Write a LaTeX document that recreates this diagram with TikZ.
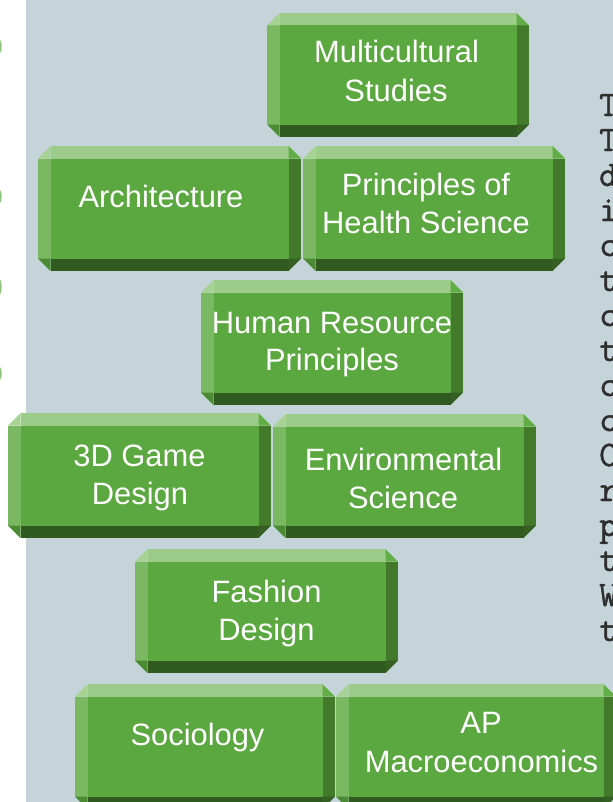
\documentclass[tikz,border=0pt]{standalone}
\usepackage{fontspec}
\setmainfont{Liberation Sans}
\newfontfamily\sidefont[FakeBold=1.2]{Latin Modern Mono}
\definecolor{bgc}{HTML}{C5D4D9}
\definecolor{bface}{HTML}{5AA83F}
\definecolor{btop}{HTML}{9DCB89}
\definecolor{bleft}{HTML}{7AB862}
\definecolor{bright}{HTML}{42792B}
\definecolor{bbottom}{HTML}{305A20}
\definecolor{btl}{HTML}{A6D293}
\definecolor{btr}{HTML}{62AE46}
\definecolor{bbl}{HTML}{4B8B33}
\definecolor{bbr}{HTML}{355F23}
\definecolor{sidetxt}{HTML}{2E2E2E}
\definecolor{sliverc}{HTML}{8CC47A}
\newcommand\bvbox[5]{%
  \fill[bface] (#2+12.5,#3+12.5) rectangle (#4-12.5,#5-12.5);
  \fill[btop] (#2+12.5,#3) rectangle (#4-12.5,#3+12.5);
  \fill[bbottom] (#2+12.5,#5-12.5) rectangle (#4-12.5,#5);
  \fill[bleft] (#2,#3+12.5) rectangle (#2+12.5,#5-12.5);
  \fill[bright] (#4-12.5,#3+12.5) rectangle (#4,#5-12.5);
  \fill[btl] (#2,#3+12.5) -- (#2+12.5,#3) -- (#2+12.5,#3+12.5) -- cycle;
  \fill[btr] (#4-12.5,#3) -- (#4,#3+12.5) -- (#4-12.5,#3+12.5) -- cycle;
  \fill[bbl] (#2,#5-12.5) -- (#2+12.5,#5) -- (#2+12.5,#5-12.5) -- cycle;
  \fill[bbr] (#4,#5-12.5) -- (#4-12.5,#5) -- (#4-12.5,#5-12.5) -- cycle;
  \coordinate (#1) at ({(#2+#4)/2},{(#3+#5)/2});
}
\tikzset{
  lbl/.style={text=white, inner sep=0pt, anchor=base, font=\fontsize{31}{38}\selectfont},
  side/.style={text=sidetxt, inner sep=0pt, anchor=base west, font=\sidefont\fontsize{36}{35}\selectfont},
}
\begin{document}
\begin{tikzpicture}[x=1bp,y=-1bp]
\useasboundingbox (0,0) rectangle (613,802);
\clip (0,0) rectangle (613,802);
\fill[white] (0,0) rectangle (613,802);
\fill[bgc] (26,0) rectangle (613,802);
% slivers at the left edge
\fill[sliverc] (0,46.5) ellipse (1.6 and 6.5);
\fill[sliverc] (0,196.5) ellipse (1.6 and 6.5);
\fill[sliverc] (0,287) ellipse (1.6 and 7);
\fill[sliverc] (0,373.5) ellipse (1.6 and 6.5);
% boxes
\bvbox{b1}{267}{13}{529}{137}
\bvbox{b2}{38}{146}{301}{271}
\bvbox{b3}{303}{146}{565}{271}
\bvbox{b4}{201}{280}{463}{405}
\bvbox{b5}{8}{413}{271}{538}
\bvbox{b6}{273}{414}{536}{538}
\bvbox{b7}{135}{549}{398}{673}
\bvbox{b8}{75}{684}{335}{809}
\bvbox{b9}{336}{684}{616}{809}
% labels
\node[lbl] (t1a) at (396.5,63) {Multicultural};
\node[lbl] (t1b) at (396,101) {Studies};
\node[lbl] (t2) at (161,207) {Architecture};
\node[lbl] (t3a) at (426,195) {Principles of};
\node[lbl] (t3b) at (426,233) {Health Science};
\node[lbl] (t4a) at (332,333) {Human Resource};
\node[lbl] (t4b) at (332,370) {Principles};
\node[lbl] (t5a) at (139.5,466) {3D Game};
\node[lbl] (t5b) at (140,504) {Design};
\node[lbl] (t6a) at (403.5,470) {Environmental};
\node[lbl] (t6b) at (403,508) {Science};
\node[lbl] (t7a) at (266.5,602) {Fashion};
\node[lbl] (t7b) at (266.5,640) {Design};
\node[lbl] (t8) at (197.5,745) {Sociology};
\node[lbl] (t9a) at (481,733) {AP};
\node[lbl] (t9b) at (481.5,772) {Macroeconomics};
% cut-off side text
\foreach \ch [count=\i] in {T,T,d,i,c,t,c,t,c,c,C,r,p,t,W,t}{
  \node[side] (s\i) at (599,{116+(\i-1)*35}) {\ch};
}
\end{tikzpicture}
\end{document}
